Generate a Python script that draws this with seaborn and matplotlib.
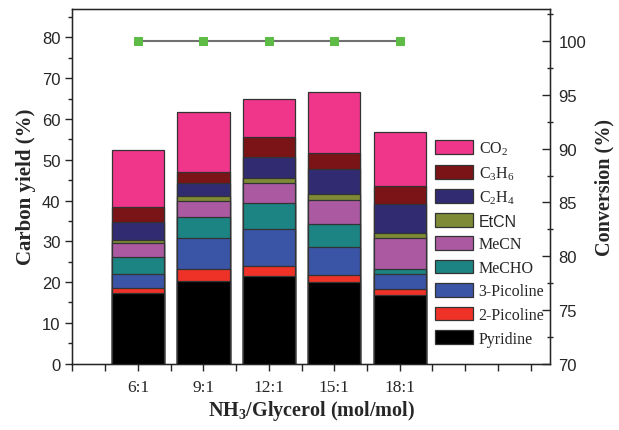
import numpy as np
import pandas as pd
import matplotlib
matplotlib.use('agg')
import matplotlib.pyplot as plt
from matplotlib.patches import Patch
from matplotlib.ticker import MultipleLocator, FixedLocator
import seaborn as sns

# data (carbon yield, % per product)
ratios = ['6:1', '9:1', '12:1', '15:1', '18:1']
pyridine = [17.2, 20.2, 21.4, 19.9, 16.8]
picoline_2 = [1.3, 2.9, 2.6, 1.9, 1.5]
picoline_3 = [3.4, 7.6, 9.0, 6.8, 3.8]
mecho = [4.3, 5.3, 6.3, 5.7, 1.2]
mecn = [3.4, 3.9, 4.9, 5.9, 7.4]
etcn = [0.7, 1.2, 1.4, 1.4, 1.4]
c2h4 = [4.4, 3.3, 5.1, 6.2, 7.0]
c3h6 = [3.6, 2.6, 4.8, 3.9, 4.5]
co2 = [14.0, 14.8, 9.5, 14.8, 13.3]
conversion = [100, 100, 100, 100, 100]

# bottom -> top
layers = [
    ('Pyridine', pyridine, '#000000'),
    ('2-Picoline', picoline_2, '#ee3228'),
    ('3-Picoline', picoline_3, '#3a55a6'),
    ('MeCHO', mecho, '#1c8483'),
    ('MeCN', mecn, '#ab5aa2'),
    ('EtCN', etcn, '#7e8a36'),
    ('C$_2$H$_4$', c2h4, '#312c72'),
    ('C$_3$H$_6$', c3h6, '#7b1416'),
    ('CO$_2$', co2, '#f0368a'),
]

sns.set_style('ticks')
plt.rcParams['font.family'] = ['Liberation Serif', 'DejaVu Serif']
plt.rcParams['mathtext.fontset'] = 'custom'
plt.rcParams['mathtext.rm'] = 'Liberation Serif'
plt.rcParams['mathtext.it'] = 'Liberation Serif:italic'
plt.rcParams['mathtext.bf'] = 'Liberation Serif:bold'

fig = plt.figure(figsize=(6.19, 4.31), dpi=100)
ax = fig.add_axes([0.117, 0.154, 0.772, 0.823])

df = pd.DataFrame({'ratio': ratios})
cum = np.zeros(len(ratios))
tops = []
for name, vals, color in layers:
    cum = cum + np.array(vals)
    tops.append((name, cum.copy(), color))

# draw the tallest stack first so lower segments sit on top of it
for name, top, color in reversed(tops):
    sns.barplot(x=df.ratio, y=top, color=color, saturation=1, width=0.8,
                edgecolor='#333333', linewidth=0.9, errorbar=None, ax=ax)

ax.set_xlim(-1, 6.3)
ax.set_ylim(0, 87)
ax.xaxis.set_major_locator(FixedLocator(range(-1, 7)))
ax.set_xticklabels(['', '6:1', '9:1', '12:1', '15:1', '18:1', '', ''])
ax.xaxis.set_minor_locator(FixedLocator(np.arange(-0.5, 6.3, 1)))
ax.yaxis.set_major_locator(MultipleLocator(10))
ax.yaxis.set_minor_locator(MultipleLocator(5))
ax.tick_params(axis='x', which='major', direction='out', length=5, width=1, labelsize=12.5, pad=6)
ax.tick_params(axis='x', which='minor', direction='out', length=5, width=1)
ax.tick_params(axis='y', which='major', direction='out', length=5, width=1, labelsize=12)
ax.tick_params(axis='y', which='minor', direction='out', length=3, width=1)
for lbl in ax.get_yticklabels():
    lbl.set_fontfamily('Liberation Sans')
ax.set_xlabel('NH$_\\mathbf{3}$/Glycerol (mol/mol)', fontsize=14.5, fontweight='bold', labelpad=2)
ax.set_ylabel('Carbon yield (%)', fontsize=15, fontweight='bold', labelpad=4)
for sp in ax.spines.values():
    sp.set_linewidth(1)
    sp.set_color('black')

# conversion on the right axis
ax2 = ax.twinx()
sns.lineplot(x=np.arange(len(ratios)), y=conversion, ax=ax2, color='#707070', linewidth=1.5,
             marker='s', markersize=6, markerfacecolor='#5dbb46', markeredgecolor='#5dbb46')
ax2.set_ylim(70, 103)
ax2.yaxis.set_major_locator(MultipleLocator(5))
ax2.yaxis.set_minor_locator(MultipleLocator(2.5))
ax2.tick_params(axis='y', which='major', direction='in', length=6, width=1, labelsize=12, pad=6)
ax2.tick_params(axis='y', which='minor', direction='inout', length=5, width=1)
for lbl in ax2.get_yticklabels():
    lbl.set_fontfamily('Liberation Sans')
ax2.set_ylabel('Conversion (%)', fontsize=14.5, fontweight='bold', labelpad=6)

handles = [Patch(facecolor=c, edgecolor='#333333', linewidth=0.9, label=n) for n, v, c in reversed(layers)]
leg = ax.legend(handles=handles, loc='lower left', bbox_to_anchor=(0.745, 0.03), frameon=False,
                fontsize=11.5, handlelength=2.4, handleheight=0.95, labelspacing=0.45,
                handletextpad=0.35, borderaxespad=0)
for t in leg.get_texts():
    if t.get_text() == 'EtCN':
        t.set_fontfamily('Liberation Sans')

fig.savefig('out.png', dpi=100)
